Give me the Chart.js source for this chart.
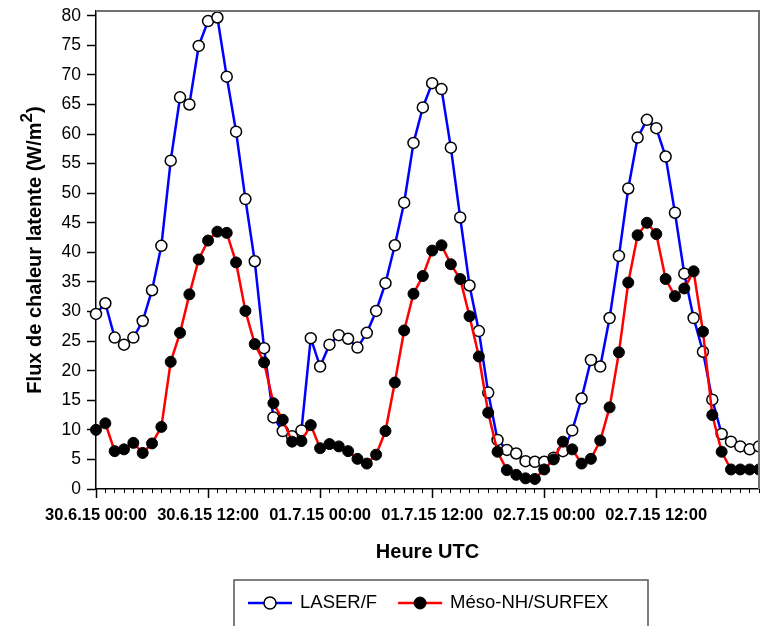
<!DOCTYPE html>
<html>
<head>
<meta charset="utf-8">
<title>Flux de chaleur latente</title>
<script src="https://cdn.jsdelivr.net/npm/chart.js@4.4.1/dist/chart.umd.min.js"></script>
<style>
  html, body { margin: 0; padding: 0; background: #fff; }
  canvas { display: block; }
</style>
</head>
<body>
<canvas id="chart" width="760" height="626"></canvas>
<script>
// hours since 30.6.15 00:00 UTC
const hours = [
  0, 1, 2, 3, 4, 5, 6, 7, 8, 9, 10, 11, 12, 13, 14, 15, 16, 17, 18, 19, 20, 21, 22, 23,
  24, 25, 26, 27, 28, 29, 30, 31, 32, 33, 34, 35, 36, 37, 38, 39, 40, 41, 42, 43, 44, 45, 46, 47,
  48, 49, 50, 51, 52, 53, 54, 55, 56, 57, 58, 59, 60, 61, 62, 63, 64, 65, 66, 67, 68, 69, 70, 71
];

const laser = [
  29.6, 31.4, 25.6, 24.4, 25.6, 28.4, 33.6, 41.1, 55.5, 66.2,
  65.0, 74.9, 79.1, 79.7, 69.7, 60.4, 49.0, 38.5, 23.8, 12.1,
  9.8, 8.9, 9.9, 25.5, 20.7, 24.4, 26.0, 25.4, 23.9, 26.4,
  30.1, 34.8, 41.2, 48.4, 58.5, 64.5, 68.6, 67.6, 57.7, 45.9,
  34.4, 26.7, 16.3, 8.3, 6.6, 6.0, 4.7, 4.6, 4.6, 5.3,
  6.4, 9.9, 15.3, 21.8, 20.7, 28.9, 39.4, 50.8, 59.4, 62.4,
  61.0, 56.2, 46.7, 36.4, 28.9, 23.2, 15.1, 9.3, 8.0, 7.2,
  6.7, 7.2
];

const meso = [
  10.0, 11.1, 6.4, 6.7, 7.8, 6.1, 7.7, 10.5, 21.5, 26.4,
  32.9, 38.8, 42.0, 43.5, 43.3, 38.3, 30.1, 24.5, 21.4, 14.5,
  11.7, 8.0, 8.1, 10.8, 6.9, 7.6, 7.2, 6.4, 5.1, 4.3,
  5.8, 9.8, 18.0, 26.8, 33.0, 36.0, 40.3, 41.2, 38.0, 35.5,
  29.2, 22.4, 12.9, 6.3, 3.2, 2.4, 1.8, 1.7, 3.3, 5.0,
  8.0, 6.7, 4.3, 5.1, 8.2, 13.8, 23.1, 34.9, 42.9, 45.0,
  43.1, 35.5, 32.6, 33.9, 36.8, 26.6, 12.5, 6.3, 3.3, 3.3,
  3.3, 3.3
];

const majorHours = [0, 12, 24, 36, 48, 60];
const majorLabels = ['30.6.15 00:00', '30.6.15 12:00', '01.7.15 00:00', '01.7.15 12:00', '02.7.15 00:00', '02.7.15 12:00'];

const FONT = "'Liberation Sans', Arial, sans-serif";

// no extra padding for labels, the plot box is fixed
const noPadding = scale => {
    scale.paddingLeft = 0;
    scale.paddingRight = 0;
    scale.paddingTop = 0;
    scale.paddingBottom = 0;
};

// y title with a real superscript, grey frame top/right, boxed legend
const decorations = {
    id: 'decorations',
    afterDraw(chart) {
        const { ctx, chartArea: a } = chart;
        ctx.save();
        ctx.strokeStyle = '#707070';
        ctx.lineWidth = 2;
        ctx.beginPath();
        ctx.moveTo(a.left, a.top);
        ctx.lineTo(a.right, a.top);
        ctx.lineTo(a.right, a.bottom);
        ctx.stroke();

        // y axis title
        ctx.save();
        ctx.translate(35, (a.top + a.bottom) / 2);
        ctx.rotate(-Math.PI / 2);
        ctx.fillStyle = '#000';
        ctx.textBaseline = 'middle';
        const main = 'Flux de chaleur latente (W/m';
        ctx.font = 'bold 20px ' + FONT;
        const wMain = ctx.measureText(main).width;
        const wClose = ctx.measureText(')').width;
        ctx.font = 'bold 17px ' + FONT;
        const wSup = ctx.measureText('2').width;
        let tx = -(wMain + wSup + wClose) / 2;
        ctx.font = 'bold 20px ' + FONT;
        ctx.fillText(main, tx, 0);
        tx += wMain;
        ctx.font = 'bold 17px ' + FONT;
        ctx.fillText('2', tx, -8);
        tx += wSup;
        ctx.font = 'bold 20px ' + FONT;
        ctx.fillText(')', tx, 0);
        ctx.restore();

        // legend box
        const boxLeft = 234, boxTop = 580, boxRight = 648;
        ctx.strokeStyle = '#555';
        ctx.lineWidth = 1.5;
        ctx.strokeRect(boxLeft, boxTop, boxRight - boxLeft, 60);

        ctx.font = '18.5px ' + FONT;
        ctx.textBaseline = 'middle';
        const cy = 603;
        let x = boxLeft + 14;
        chart.data.datasets.forEach(ds => {
            ctx.strokeStyle = ds.borderColor;
            ctx.lineWidth = ds.borderWidth;
            ctx.beginPath();
            ctx.moveTo(x, cy);
            ctx.lineTo(x + 44, cy);
            ctx.stroke();
            ctx.beginPath();
            ctx.arc(x + 22, cy, 6, 0, Math.PI * 2);
            ctx.fillStyle = ds.pointBackgroundColor;
            ctx.fill();
            ctx.strokeStyle = ds.pointBorderColor;
            ctx.lineWidth = ds.pointBorderWidth;
            ctx.stroke();
            ctx.fillStyle = '#000';
            ctx.fillText(ds.label, x + 52, cy);
            x += 52 + ctx.measureText(ds.label).width + 21;
        });
        ctx.restore();
    }
};

const ctx = document.getElementById('chart').getContext('2d');
new Chart(ctx, {
    type: 'line',
    data: {
        datasets: [{
            label: 'LASER/F',
            data: hours.map((h, i) => ({ x: h, y: laser[i] })),
            borderColor: '#0000ff',
            borderWidth: 2.5,
            pointRadius: 5.5,
            pointBackgroundColor: '#ffffff',
            pointBorderColor: '#000000',
            pointBorderWidth: 1.5,
            tension: 0,
            clip: false,
            order: 1
        }, {
            label: 'Méso-NH/SURFEX',
            data: hours.map((h, i) => ({ x: h, y: meso[i] })),
            borderColor: '#ff0000',
            borderWidth: 2.5,
            pointRadius: 5.5,
            pointBackgroundColor: '#000000',
            pointBorderColor: '#000000',
            pointBorderWidth: 1,
            tension: 0,
            clip: false,
            order: 0
        }]
    },
    options: {
        responsive: false,
        animation: false,
        devicePixelRatio: 1,
        layout: { autoPadding: false, padding: { top: 11, right: 1, bottom: 58, left: 0 } },
        plugins: {
            legend: { display: false },
            tooltip: { enabled: false }
        },
        scales: {
            xMinor: {
                type: 'linear',
                position: 'bottom',
                weight: 0,
                min: 0,
                max: 71,
                afterBuildTicks: scale => { scale.ticks = hours.map(h => ({ value: h })); },
                afterFit: scale => { scale.height = 0; noPadding(scale); },
                ticks: { display: false },
                grid: { drawOnChartArea: false, tickLength: 4, tickColor: '#000', tickWidth: 1 },
                border: { display: false }
            },
            x: {
                type: 'linear',
                position: 'bottom',
                weight: 1,
                min: 0,
                max: 71,
                afterBuildTicks: scale => { scale.ticks = majorHours.map(h => ({ value: h })); },
                afterFit: scale => { scale.height = 79; noPadding(scale); },
                ticks: {
                    autoSkip: false,
                    maxRotation: 0,
                    padding: 8,
                    color: '#000',
                    font: { family: FONT, size: 16.5, weight: 'bold' },
                    callback: value => majorLabels[majorHours.indexOf(value)]
                },
                grid: { drawOnChartArea: false, tickLength: 9, tickColor: '#000', tickWidth: 1.5 },
                border: { color: '#000', width: 1.5 },
                title: {
                    display: true,
                    text: 'Heure UTC',
                    color: '#000',
                    font: { family: FONT, size: 20, weight: 'bold' },
                    padding: { top: 0, bottom: 4 }
                }
            },
            y: {
                min: 0,
                max: 80.8,
                afterFit: scale => { scale.width = 96; noPadding(scale); },
                ticks: {
                    stepSize: 5,
                    includeBounds: false,
                    padding: 6,
                    color: '#000',
                    font: { family: FONT, size: 17.5 }
                },
                grid: { drawOnChartArea: false, tickLength: 9, tickColor: '#000', tickWidth: 1.5 },
                border: { color: '#000', width: 1.5 }
            }
        }
    },
    plugins: [decorations]
});
</script>
</body>
</html>
